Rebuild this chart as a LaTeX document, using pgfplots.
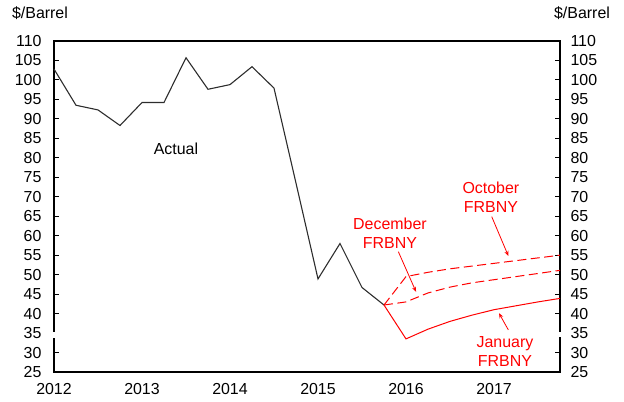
\documentclass[border=0pt]{standalone}
\usepackage{fontspec}
\setmainfont{Liberation Sans}
\usepackage{pgfplots}
\pgfplotsset{compat=1.18}
\usetikzlibrary{arrows.meta}
\definecolor{fred}{RGB}{255,0,0}
\definecolor{actual}{RGB}{45,45,45}
\begin{document}
\begin{tikzpicture}[font=\fontsize{16}{19.5}\selectfont]
\begin{axis}[
  at={(0,0)}, anchor=south west,
  scale only axis, width=506bp, height=331bp,
  xmin=2012, xmax=2017.75, ymin=25, ymax=110,
  xtick={2012,2013,2014,2015,2016,2017},
  xticklabels={2012,2013,2014,2015,2016,2017},
  ytick={25,30,...,110},
  /pgf/number format/assume math mode=true,
  /pgf/number format/1000 sep={},
  tick label style={font=\fontsize{16}{19.5}\selectfont},
  x tick style={draw=none},
  y tick style={black, line width=0.9bp},
  major tick length=5bp,
  tick align=inside,
  ytick pos=both, xtick pos=bottom,
  yticklabel pos=left,
  yticklabel style={xshift=-9bp},
  xticklabel style={yshift=-8bp},
  axis line style={black, line width=1.1bp},
  clip=false,
]
\addplot[actual, line width=1.1bp] coordinates {
(2012.00,102.8) (2012.25,93.5) (2012.50,92.3) (2012.75,88.3)
(2013.00,94.2) (2013.25,94.2) (2013.50,105.7) (2013.75,97.6)
(2014.00,98.8) (2014.25,103.4) (2014.50,97.9) (2014.75,73.5)
(2015.00,48.9) (2015.25,58.0) (2015.50,46.7) (2015.75,42.2)};
\addplot[fred, line width=1bp] coordinates {
(2015.75,42.2) (2016.00,33.5) (2016.25,36.0) (2016.50,38.0) (2016.75,39.6)
(2017.00,41.0) (2017.25,42.0) (2017.50,43.0) (2017.75,43.9)};
\addplot[fred, line width=1bp, dash pattern=on 9bp off 4.5bp] coordinates {
(2015.75,42.2) (2016.00,43.0) (2016.25,45.3) (2016.50,46.8) (2016.75,47.9)
(2017.00,48.7) (2017.25,49.5) (2017.50,50.3) (2017.75,51.1)};
\addplot[fred, line width=1bp, dash pattern=on 9bp off 4.5bp] coordinates {
(2015.75,42.2) (2016.00,49.5) (2016.25,50.6) (2016.50,51.5) (2016.75,52.2)
(2017.00,52.9) (2017.25,53.6) (2017.50,54.3) (2017.75,55.0)};
\draw[fred, line width=0.8bp, -{Stealth[length=5bp,width=4bp]}] (axis cs:2016.974,64.9) -- (axis cs:2017.163,54.8);
\draw[fred, line width=0.8bp, -{Stealth[length=5bp,width=4bp]}] (axis cs:2015.913,55.9) -- (axis cs:2016.114,45.6);
\draw[fred, line width=0.8bp, -{Stealth[length=5bp,width=4bp]}] (axis cs:2017.163,35.8) -- (axis cs:2017.057,40.1);
\node[fred, align=center, inner sep=0pt] at (axis cs:2016.965,69.9) {October\\FRBNY};
\node[fred, align=center, inner sep=0pt] at (axis cs:2015.818,60.6) {December\\FRBNY};
\node[fred, align=center, inner sep=0pt] at (axis cs:2017.125,30.3) {January\\FRBNY};
\node[black, inner sep=0pt] at (axis cs:2013.386,82.4) {Actual};
\node[black, inner sep=0pt] at (rel axis cs:-0.0277,1.083) {\$/Barrel};
\node[black, inner sep=0pt] at (rel axis cs:1.0435,1.083) {\$/Barrel};
\end{axis}
\begin{axis}[
  at={(0,0)}, anchor=south west,
  scale only axis, width=506bp, height=331bp,
  xmin=2012, xmax=2017.75, ymin=25, ymax=110,
  xtick=\empty,
  ytick={25,30,...,110},
  /pgf/number format/assume math mode=true,
  tick label style={font=\fontsize{16}{19.5}\selectfont},
  major tick length=0pt,
  axis line style={draw=none},
  ytick pos=right, yticklabel pos=right,
  yticklabel style={xshift=7bp},
]
\end{axis}
\fill[white] (-2bp,33.5bp) rectangle (6.5bp,40.1bp);
\fill[white] (499.5bp,35.0bp) rectangle (508bp,40.1bp);
\pgfresetboundingbox
\path[use as bounding box] (-54bp,-30bp) rectangle (570bp,372bp);
\end{tikzpicture}
\end{document}
